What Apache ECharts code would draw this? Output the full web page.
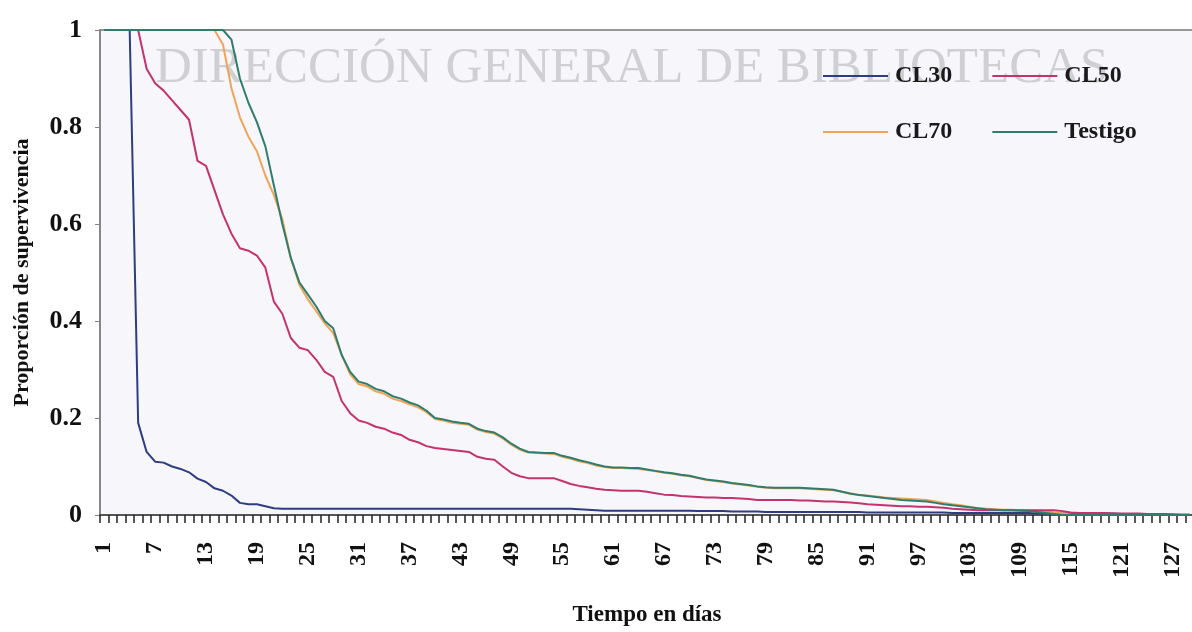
<!DOCTYPE html>
<html>
<head>
<meta charset="utf-8">
<script src="https://cdn.jsdelivr.net/npm/echarts@6/dist/echarts.min.js"></script>
<style>
  html, body { margin: 0; padding: 0; background: #fff; }
  #main { width: 1192px; height: 632px; }
</style>
</head>
<body>
<div id="main"></div>
<script>
// días 1..129
var days = [];
for (var i = 1; i <= 129; i++) days.push(String(i));

var cl30 = [
  1, 1, 1, 1, 0.19, 0.13, 0.11, 0.108, 0.1, 0.095,
  0.088, 0.075, 0.068, 0.055, 0.05, 0.04, 0.025, 0.022, 0.022, 0.018,
  0.014, 0.013, 0.013, 0.013, 0.013, 0.013, 0.013, 0.013, 0.013, 0.013,
  0.013, 0.013, 0.013, 0.013, 0.013, 0.013, 0.013, 0.013, 0.013, 0.013,
  0.013, 0.013, 0.013, 0.013, 0.013, 0.013, 0.013, 0.013, 0.013, 0.013,
  0.013, 0.013, 0.013, 0.013, 0.013, 0.013, 0.012, 0.011, 0.01, 0.009,
  0.009, 0.009, 0.009, 0.009, 0.009, 0.009, 0.009, 0.009, 0.009, 0.009,
  0.008, 0.008, 0.008, 0.008, 0.007, 0.007, 0.007, 0.007, 0.006, 0.006,
  0.006, 0.006, 0.006, 0.006, 0.006, 0.006, 0.006, 0.006, 0.006, 0.006,
  0.005, 0.005, 0.005, 0.005, 0.005, 0.005, 0.005, 0.005, 0.005, 0.005,
  0.004, 0.004, 0.004, 0.004, 0.004, 0.004, 0.004, 0.004, 0.004, 0.004,
  0.003, 0.003, 0.003, 0.003, 0.003, 0.003, 0.003, 0.003, 0.003, 0.003,
  0.002, 0.002, 0.002, 0.001, 0.001, 0.001, 0.001, 0, 0
];

var cl50 = [
  1, 1, 1, 1, 1, 0.92, 0.89, 0.875, 0.855, 0.835,
  0.815, 0.73, 0.72, 0.67, 0.62, 0.58, 0.55, 0.545, 0.535, 0.51,
  0.44, 0.415, 0.365, 0.345, 0.34, 0.32, 0.295, 0.285, 0.235, 0.21,
  0.195, 0.19, 0.182, 0.178, 0.17, 0.165, 0.155, 0.15, 0.142, 0.138,
  0.136, 0.134, 0.132, 0.13, 0.12, 0.116, 0.114, 0.1, 0.087, 0.08,
  0.076, 0.076, 0.076, 0.076, 0.07, 0.064, 0.06, 0.057, 0.054, 0.052,
  0.051, 0.05, 0.05, 0.05, 0.048, 0.045, 0.042, 0.041, 0.039, 0.038,
  0.037, 0.036, 0.036, 0.035, 0.035, 0.034, 0.033, 0.031, 0.031, 0.031,
  0.031, 0.031, 0.03, 0.03, 0.029, 0.028, 0.028, 0.027, 0.026, 0.024,
  0.022, 0.021, 0.02, 0.019, 0.018, 0.018, 0.017, 0.017, 0.016, 0.015,
  0.013, 0.012, 0.011, 0.01, 0.01, 0.01, 0.01, 0.01, 0.01, 0.01,
  0.01, 0.01, 0.01, 0.008, 0.005, 0.004, 0.004, 0.004, 0.004, 0.003,
  0.003, 0.003, 0.003, 0.002, 0.002, 0.002, 0.001, 0.001, 0.001
];

var cl70 = [
  1, 1, 1, 1, 1, 1, 1, 1, 1, 1,
  1, 1, 1, 1, 0.97, 0.88, 0.82, 0.78, 0.75, 0.7,
  0.66, 0.61, 0.53, 0.475, 0.445, 0.42, 0.395, 0.375, 0.33, 0.29,
  0.27, 0.265, 0.255, 0.25, 0.24, 0.235, 0.228, 0.222, 0.212, 0.198,
  0.195, 0.19, 0.188, 0.186, 0.176, 0.171, 0.168, 0.158, 0.145, 0.135,
  0.129, 0.128, 0.127, 0.126, 0.12, 0.116, 0.111, 0.107, 0.102, 0.099,
  0.097, 0.097, 0.096, 0.095, 0.093, 0.09, 0.087, 0.085, 0.082, 0.08,
  0.076, 0.072, 0.07, 0.068, 0.065, 0.063, 0.061, 0.058, 0.056, 0.055,
  0.055, 0.055, 0.055, 0.054, 0.053, 0.052, 0.051, 0.048, 0.045, 0.042,
  0.04, 0.038, 0.036, 0.035, 0.034, 0.033, 0.032, 0.031, 0.028, 0.025,
  0.022, 0.02, 0.017, 0.014, 0.013, 0.012, 0.011, 0.011, 0.01, 0.01,
  0.009, 0.007, 0.005, 0.003, 0.001, 0, 0, 0, 0, 0,
  0, 0, 0, 0, 0, 0, 0, 0, 0
];

var testigo = [
  1, 1, 1, 1, 1, 1, 1, 1, 1, 1,
  1, 1, 1, 1, 1, 0.98, 0.9, 0.85, 0.81, 0.76,
  0.68, 0.6, 0.53, 0.48, 0.455, 0.43, 0.4, 0.385, 0.33, 0.295,
  0.275, 0.27, 0.26, 0.255, 0.245, 0.24, 0.232, 0.226, 0.215, 0.2,
  0.197, 0.193, 0.19, 0.188, 0.178, 0.173, 0.17, 0.16, 0.147, 0.137,
  0.13, 0.129, 0.128, 0.128, 0.122, 0.118, 0.113, 0.109, 0.104, 0.1,
  0.098, 0.098, 0.097, 0.097, 0.094, 0.091, 0.088, 0.086, 0.083, 0.081,
  0.077, 0.073, 0.071, 0.069, 0.066, 0.064, 0.062, 0.059, 0.057, 0.056,
  0.056, 0.056, 0.056, 0.055, 0.054, 0.053, 0.052, 0.048, 0.044, 0.041,
  0.039, 0.037, 0.035, 0.033, 0.031, 0.03, 0.029, 0.028, 0.025, 0.022,
  0.02, 0.018, 0.016, 0.014, 0.012, 0.011, 0.01, 0.01, 0.009, 0.008,
  0.006, 0.004, 0.002, 0, 0, 0, 0, 0, 0, 0,
  0, 0, 0, 0, 0, 0, 0, 0, 0
];

var seriesNames = ['CL30', 'CL50', 'CL70', 'Testigo'];
var seriesColors = ['#2e3d82', '#c4336e', '#f0a458', '#2f7d6c'];
var seriesData = [cl30, cl50, cl70, testigo];

var serif = '"Liberation Serif", "DejaVu Serif", serif';

var chart = echarts.init(document.getElementById('main'));

var series = seriesData.map(function (vals, k) {
  return {
    name: seriesNames[k],
    type: 'line',
    symbol: 'none',
    data: vals,
    color: seriesColors[k],
    lineStyle: { width: 2, color: seriesColors[k] },
    z: k === 1 ? 6 : 3 + k
  };
});

function legendCfg(names, top) {
  return {
    data: names,
    left: 818,
    top: top,
    icon: 'rect',
    itemWidth: 65,
    itemHeight: 2,
    itemGap: 40,
    textStyle: { fontFamily: serif, fontWeight: 'bold', fontSize: 24, color: '#1a1a1a', padding: [0, 0, 0, 2] }
  };
}

chart.setOption({
  animation: false,
  backgroundColor: '#ffffff',
  graphic: [{
    type: 'text',
    left: 155,
    top: 43,
    z: 0,
    silent: true,
    style: {
      text: 'DIRECCIÓN GENERAL DE BIBLIOTECAS',
      font: '51px ' + serif,
      fill: 'rgba(170,170,170,0.5)'
    }
  }],
  legend: [
    legendCfg(['CL30', 'CL50'], 59),
    legendCfg(['CL70', 'Testigo'], 115)
  ],
  grid: {
    left: 100,
    right: -2,
    top: 30,
    bottom: 117,
    outerBoundsMode: 'none',
    containLabel: false,
    show: true,
    backgroundColor: '#f6f6fb',
    borderColor: '#777',
    borderWidth: 1.5
  },
  xAxis: {
    type: 'category',
    data: days,
    boundaryGap: true,
    name: 'Tiempo en días',
    nameLocation: 'middle',
    nameGap: 89,
    nameTextStyle: { fontFamily: serif, fontWeight: 'bold', fontSize: 23, color: '#111' },
    axisLine: { lineStyle: { color: '#555', width: 2 } },
    axisTick: { show: true, interval: 0, length: 8, lineStyle: { color: '#222', width: 1.5 } },
    axisLabel: {
      interval: 5,
      rotate: 90,
      margin: 27,
      fontFamily: serif,
      fontWeight: 'bold',
      fontSize: 24,
      color: '#111'
    },
    splitLine: { show: false }
  },
  yAxis: {
    type: 'value',
    min: 0,
    max: 1,
    interval: 0.2,
    name: 'Proporción de supervivencia',
    nameLocation: 'middle',
    nameGap: 67,
    nameTextStyle: { fontFamily: serif, fontWeight: 'bold', fontSize: 22, color: '#111' },
    axisLine: { show: true, lineStyle: { color: '#808080', width: 1.5 } },
    axisTick: { show: true, length: 5, lineStyle: { color: '#808080' } },
    axisLabel: { margin: 18, fontFamily: serif, fontWeight: 'bold', fontSize: 26, color: '#111' },
    splitLine: { show: false }
  },
  series: series
});
</script>
</body>
</html>
